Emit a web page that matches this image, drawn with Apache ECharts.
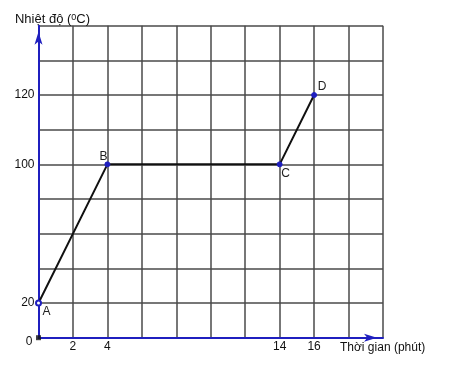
<!DOCTYPE html>
<html><head><meta charset="utf-8">
<script src="https://cdn.jsdelivr.net/npm/echarts@6/dist/echarts.min.js"></script>
<style>html,body{margin:0;padding:0;background:#fff}#c{width:462px;height:366px}</style>
</head><body><div id="c"></div>
<script>
// Data
const yTickLabels = ['0', '20', '', '', '', '100', '', '120', '', ''];
const xTickLabels = [2, 4, 14, 16];
const times = [0, 4, 14, 16];
const temps = ['20', '100', '100', '120'];
const pointNames = ['A', 'B', 'C', 'D'];
const originPoint = [0, '0'];

const labelOffsets = [[8, 9], [-4, -8], [6, 9], [8, -8]];
const BLUE = '#1f1fbf';

const lineData = times.map((t, i) => ({
  value: [t, temps[i]],
  symbol: i === 0 ? 'emptyCircle' : 'circle',
  label: { show: true, formatter: pointNames[i], position: 'inside', offset: labelOffsets[i] }
}));

const chart = echarts.init(document.getElementById('c'));
chart.setOption({
  animation: false,
  grid: { left: 38.5, top: 25.7, width: 344.5, height: 312, containLabel: false },
  xAxis: {
    type: 'value', min: 0, max: 20, interval: 2,
    name: 'Thời gian (phút)', nameLocation: 'end', nameGap: -43,
    nameTextStyle: { fontFamily: 'Liberation Sans', fontSize: 12, color: '#111', align: 'left', verticalAlign: 'top', padding: [4, 0, 0, 0] },
    axisLine: { show: true, lineStyle: { color: BLUE, width: 2 }, symbol: ['none', 'arrow'], symbolSize: [6, 13], symbolOffset: [0, -6] },
    axisTick: { show: false },
    splitLine: { show: true, lineStyle: { color: '#4a4a4a', width: 1.5 } },
    axisLabel: {
      margin: 3, fontFamily: 'Liberation Sans', fontSize: 12, color: '#111',
      formatter: v => xTickLabels.includes(v) ? String(v) : ''
    }
  },
  yAxis: {
    type: 'category', data: yTickLabels, boundaryGap: false,
    name: '{a|Nhiệt độ (}{s|0}{a|C)}', nameLocation: 'end', nameGap: -1,
    nameTextStyle: {
      align: 'center', padding: [0, 0, 0, 28],
      rich: {
        a: { fontFamily: 'Liberation Sans', fontSize: 13, color: '#111' },
        s: { fontFamily: 'Liberation Sans', fontSize: 9, color: '#111', verticalAlign: 'top', padding: [0, 0, 5, 0] }
      }
    },
    axisLine: { show: true, lineStyle: { color: BLUE, width: 2 }, symbol: ['none', 'arrow'], symbolSize: [6, 13], symbolOffset: [0, -6] },
    axisTick: { show: false },
    splitLine: { show: true, interval: 0, lineStyle: { color: '#4a4a4a', width: 1.5 } },
    axisLabel: {
      interval: 0, margin: 4, fontFamily: 'Liberation Sans', fontSize: 12, color: '#111',
      formatter: v => v === '0' ? '{z|0}' : v,
      rich: { z: { fontFamily: 'Liberation Sans', fontSize: 12, color: '#111', padding: [7, 2, 0, 0] } }
    }
  },
  series: [
    {
      type: 'line', data: lineData, clip: false, z: 5,
      symbolSize: 5,
      lineStyle: { color: '#111', width: 2 },
      itemStyle: { color: BLUE, borderColor: BLUE, borderWidth: 1 },
      label: { fontFamily: 'Liberation Sans', fontSize: 12, color: '#222' }
    },
    {
      type: 'scatter', data: [originPoint], symbol: 'rect', symbolSize: 5, clip: false, z: 6,
      itemStyle: { color: '#111' }
    }
  ]
});
</script></body></html>
